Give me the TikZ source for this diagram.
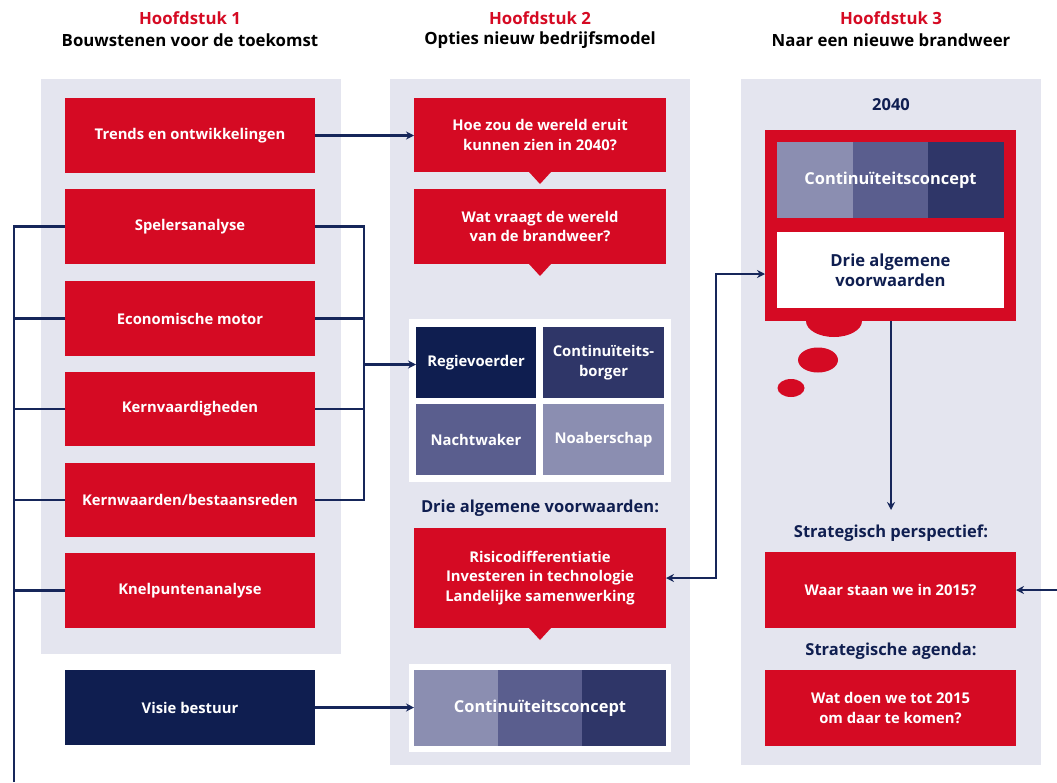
\documentclass[tikz,border=0pt]{standalone}
\usepackage{fontspec}
\setmainfont{Open Sans}
\usetikzlibrary{arrows.meta,calc}
\definecolor{myred}{HTML}{D50A23}
\definecolor{bgc}{HTML}{E4E5EF}
\definecolor{navy}{HTML}{0F1E50}
\definecolor{tdark}{HTML}{2F3668}
\definecolor{tmid}{HTML}{5A5E8E}
\definecolor{tlight}{HTML}{8B8EB1}
\definecolor{linec}{HTML}{16265A}
\begin{document}
\begin{tikzpicture}[x=1pt,y=-1pt,
  box/.style={anchor=north west, inner sep=0pt, outer sep=0pt, align=center, text=white,
     font=\fontsize{14.8}{19.5}\selectfont\bfseries},
  redbox/.style={box, fill=myred, minimum width=250pt, minimum height=75pt},
  cell/.style={box, minimum width=120pt, minimum height=71pt},
  head/.style={font=\fontsize{16.8}{19}\selectfont\bfseries, align=center},
  lbl/.style={font=\fontsize{16.5}{19}\selectfont\bfseries, text=navy, align=center},
  conn/.style={draw=linec, line width=2.2pt},
  arr/.style={conn, -{Stealth[length=8pt,width=8pt]}},
  darr/.style={conn, {Stealth[length=8pt,width=8pt]}-{Stealth[length=8pt,width=8pt]}},
  ptr/.style={fill=myred}
]
\useasboundingbox (0,0) rectangle (1057,782);
\fill[white] (0,0) rectangle (1057,782);

% column backgrounds
\fill[bgc] (41,79) rectangle (341,654);
\fill[bgc] (390,79) rectangle (690,765);
\fill[bgc] (741,79) rectangle (1041,765);

% headers
\node[head, text=myred] (h1a) at (190,18) {Hoofdstuk 1};
\node[head, text=black] (h1b) at (190,40) {Bouwstenen voor de toekomst};
\node[head, text=myred] (h2a) at (540,18) {Hoofdstuk 2};
\node[head, text=black] (h2b) at (540,40) {Opties nieuw bedrijfsmodel};
\node[head, text=myred] (h3a) at (891,18) {Hoofdstuk 3};
\node[head, text=black] (h3b) at (891,40) {Naar een nieuwe brandweer};

% column 1
\node[redbox] (trends) at (65,98) {Trends en ontwikkelingen};
\node[redbox] (spel) at (65,189) {Spelersanalyse};
\node[redbox] (eco) at (65,281) {Economische motor};
\node[redbox, minimum height=74pt] (kernv) at (65,372) {Kernvaardigheden};
\node[redbox, minimum height=74pt] (kernw) at (65,463) {Kernwaarden/bestaansreden};
\node[redbox] (knel) at (65,553) {Knelpuntenanalyse};
\node[redbox, fill=navy] (visie) at (65,670) {Visie bestuur};

% column 2
\node[redbox, minimum width=252pt, minimum height=74pt] (q1) at (414,98) {Hoe zou de wereld eruit\\kunnen zien in 2040?};
\fill[ptr] ($(q1.south)+(-11,0)$) -- ($(q1.south)+(11,0)$) -- ($(q1.south)+(0,12)$) -- cycle;
\node[redbox, minimum width=252pt] (q2) at (414,189) {Wat vraagt de wereld\\van de brandweer?};
\fill[ptr] ($(q2.south)+(-11,0)$) -- ($(q2.south)+(11,0)$) -- ($(q2.south)+(0,12)$) -- cycle;

\fill[white] (409,319) rectangle (671,482);
\node[cell, fill=navy] (regie) at (416,327) {Regievoerder};
\node[cell, fill=tdark, minimum width=121pt] (borger) at (543,327) {Continuïteits-\\borger};
\node[cell, fill=tmid] (nacht) at (416,404) {Nachtwaker};
\node[cell, fill=tlight, minimum width=121pt] (noab) at (543,404) {Noaberschap};

\node[lbl] (drie2) at (540,508) {Drie algemene voorwaarden:};
\node[redbox, minimum width=252pt, minimum height=100pt] (risico) at (414,528) {Risicodifferentiatie\\Investeren in technologie\\Landelijke samenwerking};
\fill[ptr] ($(risico.south)+(-11,0)$) -- ($(risico.south)+(11,0)$) -- ($(risico.south)+(0,12)$) -- cycle;

\fill[white] (409,664) rectangle (671,752);
\fill[tlight] (414,670) rectangle (498,746);
\fill[tmid] (498,670) rectangle (582,746);
\fill[tdark] (582,670) rectangle (666,746);
\node[box, minimum width=252pt, minimum height=76pt, font=\fontsize{16.4}{19}\selectfont\bfseries] (conc2) at (414,670) {Continuïteitsconcept};

% column 3
\node[lbl] (y2040) at (891,105) {2040};
\node[box, fill=myred, minimum width=251pt, minimum height=191pt] (frame) at (765,130) {};
\fill[myred] (834,321) ellipse [x radius=28, y radius=16];
\fill[myred] (818,360) ellipse [x radius=20, y radius=12.5];
\fill[myred] (791,388) ellipse [x radius=13.5, y radius=9];
\fill[tlight] (777,142) rectangle (853,218);
\fill[tmid] (853,142) rectangle (928,218);
\fill[tdark] (928,142) rectangle (1004,218);
\node[box, minimum width=227pt, minimum height=76pt, font=\fontsize{16.4}{19}\selectfont\bfseries] (conc3) at (777,142) {Continuïteitsconcept};
\node[box, fill=white, text=navy, minimum width=227pt, minimum height=76pt, font=\fontsize{16.6}{20}\selectfont\bfseries] (dav) at (777,232) {Drie algemene\\voorwaarden};

\node[lbl] (strp) at (891,533) {Strategisch perspectief:};
\node[redbox, minimum width=251pt, minimum height=76pt] (waar) at (765,552) {Waar staan we in 2015?};
\node[lbl] (stra) at (891,651) {Strategische agenda:};
\node[redbox, minimum width=251pt, minimum height=76pt] (wat) at (765,670) {Wat doen we tot 2015\\om daar te komen?};

% connectors
\draw[arr] (trends.east) -- (q1.west |- trends.east);

\coordinate (lb) at (14,782);
\draw[conn] (lb) |- (spel.west);
\draw[conn] (eco.west) -- (eco.west -| lb);
\draw[conn] (kernv.west) -- (kernv.west -| lb);
\draw[conn] (kernw.west) -- (kernw.west -| lb);
\draw[conn] (knel.west) -- (knel.west -| lb);

\coordinate (rb) at (364,0);
\draw[conn] (spel.east) -- (spel.east -| rb) -- (kernw.east -| rb) -- (kernw.east);
\draw[conn] (eco.east) -- (eco.east -| rb);
\draw[conn] (kernv.east) -- (kernv.east -| rb);
\draw[arr] ($(regie.west -| rb)+(0,2)$) -- ($(regie.west)+(0,2)$);

\draw[arr] (visie.east) -- (conc2.west |- visie.east);

\coordinate (vb) at (716,0);
\coordinate (fin) at (765,274);
\draw[darr] (risico.east) -- (risico.east -| vb) |- (fin);

\coordinate (dn) at (891,510);
\draw[arr] (frame.south -| dn) -- (dn);

\coordinate (re) at (1057,590);
\draw[arr] (re) -- (waar.east |- re);
\end{tikzpicture}
\end{document}
